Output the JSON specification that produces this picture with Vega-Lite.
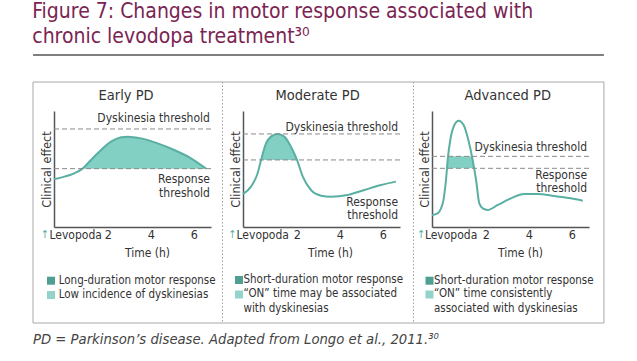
{
 "$schema": "https://vega.github.io/schema/vega-lite/v6.json",
 "background": "white",
 "autosize": {"type": "pad"},
 "padding": {"left": 32, "top": 1, "right": 34, "bottom": 11},
 "bounds": "flush",
 "spacing": 32,
 "title": {"text": ["Figure 7: Changes in motor response associated with", "chronic levodopa treatment³⁰"], "anchor": "start", "frame": "bounds", "fontSize": 21, "fontWeight": "normal", "color": "#7b2452", "lineHeight": 25, "offset": 7},
 "config": {
  "font": "DejaVu Sans Condensed, DejaVu Sans, sans-serif",
  "view": {"stroke": null},
  "text": {"fontSize": 12, "color": "#333"},
  "axisX": {"ticks": false, "grid": false, "labelFontSize": 12.5, "labelPadding": 1, "labelColor": "#333", "labelFlush": false, "domainColor": "#555", "domainWidth": 1.5, "titleFontSize": 12, "titleFontWeight": "normal", "titleColor": "#333", "titleY": 25, "titleBaseline": "middle", "titleAlign": "center"},
  "axisY": {"labels": false, "ticks": false, "grid": false, "domainColor": "#555", "domainWidth": 1.5, "titleFontSize": 12.5, "titleFontWeight": "normal", "titleColor": "#333", "titlePadding": 1}
 },
 "datasets": {
  "early": [
   {"h": -0.5, "v": 4.11}, {"h": -0.02, "v": 4.34}, {"h": 0.44, "v": 4.63}, {"h": 0.83, "v": 5.03}, {"h": 1.22, "v": 5.78}, {"h": 1.53, "v": 6.35}, {"h": 2.15, "v": 7.36}, {"h": 2.62, "v": 7.73}, {"h": 2.93, "v": 7.79}, {"h": 3.55, "v": 7.64}, {"h": 4.32, "v": 7.21}, {"h": 5.09, "v": 6.64}, {"h": 5.87, "v": 5.92}, {"h": 6.57, "v": 5.03}
  ],
  "moderate": [
   {"h": -0.5, "v": 2.84}, {"h": -0.13, "v": 3.48}, {"h": 0.18, "v": 4.63}, {"h": 0.34, "v": 5.78}, {"h": 0.57, "v": 7.21}, {"h": 0.8, "v": 7.79}, {"h": 1.11, "v": 8.02}, {"h": 1.42, "v": 7.79}, {"h": 1.73, "v": 6.92}, {"h": 2.01, "v": 5.78}, {"h": 2.28, "v": 4.34}, {"h": 2.66, "v": 3.19}, {"h": 3.13, "v": 2.7}, {"h": 3.59, "v": 2.61}, {"h": 4.37, "v": 2.76}, {"h": 5.14, "v": 3.19}, {"h": 5.92, "v": 3.62}, {"h": 6.61, "v": 3.91}
  ],
  "advanced": [
   {"h": -0.5, "v": 1.03}, {"h": -0.24, "v": 1.18}, {"h": 0.0, "v": 2.04}, {"h": 0.15, "v": 4.05}, {"h": 0.23, "v": 5.78}, {"h": 0.35, "v": 7.5}, {"h": 0.54, "v": 8.79}, {"h": 0.74, "v": 9.16}, {"h": 0.97, "v": 8.79}, {"h": 1.19, "v": 7.5}, {"h": 1.39, "v": 5.78}, {"h": 1.55, "v": 4.05}, {"h": 1.7, "v": 2.04}, {"h": 1.86, "v": 1.61}, {"h": 2.09, "v": 1.47}, {"h": 2.56, "v": 1.9}, {"h": 3.17, "v": 2.47}, {"h": 3.79, "v": 2.84}, {"h": 4.42, "v": 2.84}, {"h": 5.19, "v": 2.67}, {"h": 5.96, "v": 2.47}, {"h": 6.51, "v": 2.27}
  ],
  "advancedFill": [
   {"h": 0.197, "v": 5.06}, {"h": 0.252, "v": 6.09}, {"h": 1.355, "v": 6.09}, {"h": 1.456, "v": 5.06}
  ]
 },
 "hconcat": [
  {
   "width": 157, "height": 116,
   "layer": [
    {"data": {"name": "early"}, "transform": [{"filter": "datum.v >= 5.0"}],
     "mark": {"type": "area", "interpolate": "monotone", "color": "#82cfc3", "opacity": 1},
     "encoding": {
      "x": {"field": "h", "type": "quantitative", "title": "Time (h)", "scale": {"domain": [-0.5, 6.8], "nice": false, "zero": false}, "axis": {"values": [2, 4, 6], "titleX": 93}},
      "y": {"field": "v", "type": "quantitative", "title": "Clinical effect", "scale": {"domain": [0, 10], "nice": false, "zero": false}},
      "y2": {"datum": 5.03}
     }},
    {"data": {"name": "early"},
     "mark": {"type": "line", "interpolate": "monotone", "color": "#5aafa3", "strokeWidth": 2},
     "encoding": {"x": {"field": "h", "type": "quantitative", "title": "Time (h)"}, "y": {"field": "v", "type": "quantitative", "title": "Clinical effect"}}},
    {"data": {"values": [{"threshold": "Dyskinesia threshold", "v": 8.45}, {"threshold": "Response threshold", "v": 5.03}]},
     "mark": {"type": "rule", "strokeDash": [5, 3], "color": "#8a8a8a", "strokeWidth": 1},
     "encoding": {"y": {"field": "v", "type": "quantitative", "title": "Clinical effect"}, "x": {"datum": -0.5}, "x2": {"datum": 6.8}}},
    {"data": {"values": [{"label": "Dyskinesia threshold"}]},
     "mark": {"type": "text", "align": "right", "baseline": "middle"},
     "encoding": {"x": {"datum": 6.75}, "y": {"datum": 9.4}, "text": {"field": "label"}}},
    {"data": {"values": [{"label": "Response\nthreshold"}]},
     "mark": {"type": "text", "align": "right", "baseline": "top", "lineBreak": "\n", "lineHeight": 14},
     "encoding": {"x": {"datum": 6.75}, "y": {"datum": 4.59}, "text": {"field": "label"}}},
    {"data": {"values": [{"label": "Early PD"}]},
     "mark": {"type": "text", "align": "center", "baseline": "middle", "fontSize": 14.5},
     "encoding": {"x": {"datum": 2.85}, "y": {"datum": 11.29}, "text": {"field": "label"}}},
    {"data": {"values": [{"label": "↑"}]},
     "mark": {"type": "text", "align": "center", "baseline": "middle", "color": "#5aafa3", "fontSize": 11},
     "encoding": {"x": {"datum": -0.93}, "y": {"datum": -0.69}, "text": {"field": "label"}}},
    {"data": {"values": [{"label": "Levopoda"}]},
     "mark": {"type": "text", "align": "left", "baseline": "middle"},
     "encoding": {"x": {"datum": -0.71}, "y": {"datum": -0.69}, "text": {"field": "label"}}},
    {"data": {"values": [{"item": "Long-duration motor response"}]},
     "encoding": {"y": {"datum": -4.63}},
     "layer": [
      {"mark": {"type": "point", "shape": "square", "filled": true, "size": 64, "color": "#4f9f95", "opacity": 1}, "encoding": {"x": {"datum": -0.64}}},
      {"mark": {"type": "text", "align": "left", "baseline": "middle", "fontSize": 11.5}, "encoding": {"x": {"datum": -0.28}, "text": {"field": "item"}}}
     ]},
    {"data": {"values": [{"item": "Low incidence of dyskinesias"}]},
     "encoding": {"y": {"datum": -5.86}},
     "layer": [
      {"mark": {"type": "point", "shape": "square", "filled": true, "size": 64, "color": "#93d3c9", "opacity": 1}, "encoding": {"x": {"datum": -0.64}}},
      {"mark": {"type": "text", "align": "left", "baseline": "middle", "fontSize": 11.5}, "encoding": {"x": {"datum": -0.28}, "text": {"field": "item"}}}
     ]},
    {"data": {"values": [{"note": "PD = Parkinson’s disease. Adapted from Longo et al., 2011.³⁰"}]},
     "mark": {"type": "text", "align": "left", "baseline": "middle", "fontStyle": "italic", "fontSize": 14.7, "color": "#444"},
     "encoding": {"x": {"datum": -1.476}, "y": {"datum": -9.74}, "text": {"field": "note"}}},
    {"data": {"values": [{"part": "title rule"}]},
     "mark": {"type": "rule", "color": "#555", "strokeWidth": 1.5},
     "encoding": {"x": {"datum": -1.476}, "x2": {"datum": 25.07}, "y": {"datum": 14.83}}},
    {"data": {"values": [{"part": "frame"}]},
     "mark": {"type": "rect", "fill": "white", "fillOpacity": 0, "stroke": "#a8a8a8", "strokeWidth": 1},
     "encoding": {"x": {"datum": -1.476}, "x2": {"datum": 25.07}, "y": {"datum": 12.5}, "y2": {"datum": -8.276}}},
    {"data": {"values": [{"part": "divider"}]},
     "mark": {"type": "rule", "color": "#a0a0a0", "strokeDash": [1.5, 2], "strokeWidth": 1},
     "encoding": {"x": {"datum": 7.335}, "y": {"datum": 12.5}, "y2": {"datum": -8.276}}}
   ]
  },
  {
   "width": 157, "height": 116,
   "layer": [
    {"data": {"name": "moderate"}, "transform": [{"filter": "datum.v >= 5.77"}],
     "mark": {"type": "area", "interpolate": "monotone", "color": "#82cfc3", "opacity": 1},
     "encoding": {
      "x": {"field": "h", "type": "quantitative", "title": "Time (h)", "scale": {"domain": [-0.5, 6.8], "nice": false, "zero": false}, "axis": {"values": [2, 4, 6], "titleX": 87}},
      "y": {"field": "v", "type": "quantitative", "title": "Clinical effect", "scale": {"domain": [0, 10], "nice": false, "zero": false}},
      "y2": {"datum": 5.78}
     }},
    {"data": {"name": "moderate"},
     "mark": {"type": "line", "interpolate": "monotone", "color": "#5aafa3", "strokeWidth": 2},
     "encoding": {"x": {"field": "h", "type": "quantitative", "title": "Time (h)"}, "y": {"field": "v", "type": "quantitative", "title": "Clinical effect"}}},
    {"data": {"values": [{"threshold": "Dyskinesia threshold", "v": 8.02}, {"threshold": "Response threshold", "v": 5.78}]},
     "mark": {"type": "rule", "strokeDash": [5, 3], "color": "#8a8a8a", "strokeWidth": 1},
     "encoding": {"y": {"field": "v", "type": "quantitative", "title": "Clinical effect"}, "x": {"datum": -0.5}, "x2": {"datum": 6.8}}},
    {"data": {"values": [{"label": "Dyskinesia threshold"}]},
     "mark": {"type": "text", "align": "right", "baseline": "middle"},
     "encoding": {"x": {"datum": 6.71}, "y": {"datum": 8.65}, "text": {"field": "label"}}},
    {"data": {"values": [{"label": "Response\nthreshold"}]},
     "mark": {"type": "text", "align": "right", "baseline": "top", "lineBreak": "\n", "lineHeight": 13},
     "encoding": {"x": {"datum": 6.71}, "y": {"datum": 2.58}, "text": {"field": "label"}}},
    {"data": {"values": [{"label": "Moderate PD"}]},
     "mark": {"type": "text", "align": "center", "baseline": "middle", "fontSize": 14.5},
     "encoding": {"x": {"datum": 2.97}, "y": {"datum": 11.29}, "text": {"field": "label"}}},
    {"data": {"values": [{"label": "↑"}]},
     "mark": {"type": "text", "align": "center", "baseline": "middle", "color": "#5aafa3", "fontSize": 11},
     "encoding": {"x": {"datum": -1.0}, "y": {"datum": -0.69}, "text": {"field": "label"}}},
    {"data": {"values": [{"label": "Levopoda"}]},
     "mark": {"type": "text", "align": "left", "baseline": "middle"},
     "encoding": {"x": {"datum": -0.8}, "y": {"datum": -0.69}, "text": {"field": "label"}}},
    {"data": {"values": [{"item": "Short-duration motor response"}]},
     "encoding": {"y": {"datum": -4.57}},
     "layer": [
      {"mark": {"type": "point", "shape": "square", "filled": true, "size": 64, "color": "#4f9f95", "opacity": 1}, "encoding": {"x": {"datum": -0.686}}},
      {"mark": {"type": "text", "align": "left", "baseline": "middle", "fontSize": 11.5}, "encoding": {"x": {"datum": -0.477}, "text": {"field": "item"}}}
     ]},
    {"data": {"values": [{"item": "“ON” time may be associated\nwith dyskinesias"}]},
     "layer": [
      {"mark": {"type": "point", "shape": "square", "filled": true, "size": 64, "color": "#93d3c9", "opacity": 1}, "encoding": {"x": {"datum": -0.686}, "y": {"datum": -5.82}}},
      {"mark": {"type": "text", "align": "left", "baseline": "top", "lineBreak": "\n", "lineHeight": 14.8, "fontSize": 11.5}, "encoding": {"x": {"datum": -0.477}, "y": {"datum": -5.3}, "text": {"field": "item"}}}
     ]},
    {"data": {"values": [{"part": "divider"}]},
     "mark": {"type": "rule", "color": "#a0a0a0", "strokeDash": [1.5, 2], "strokeWidth": 1},
     "encoding": {"x": {"datum": 7.427}, "y": {"datum": 12.5}, "y2": {"datum": -8.276}}}
   ]
  },
  {
   "width": 157, "height": 116,
   "layer": [
    {"data": {"name": "advancedFill"},
     "mark": {"type": "area", "interpolate": "linear", "color": "#82cfc3", "opacity": 1},
     "encoding": {
      "x": {"field": "h", "type": "quantitative", "title": "Time (h)", "scale": {"domain": [-0.5, 6.8], "nice": false, "zero": false}, "axis": {"values": [2, 4, 6], "titleX": 88}},
      "y": {"field": "v", "type": "quantitative", "title": "Clinical effect", "scale": {"domain": [0, 10], "nice": false, "zero": false}},
      "y2": {"datum": 5.06}
     }},
    {"data": {"name": "advanced"},
     "mark": {"type": "line", "interpolate": "monotone", "color": "#5aafa3", "strokeWidth": 2},
     "encoding": {"x": {"field": "h", "type": "quantitative", "title": "Time (h)"}, "y": {"field": "v", "type": "quantitative", "title": "Clinical effect"}}},
    {"data": {"values": [{"threshold": "Dyskinesia threshold", "v": 6.09}, {"threshold": "Response threshold", "v": 5.06}]},
     "mark": {"type": "rule", "strokeDash": [5, 3], "color": "#8a8a8a", "strokeWidth": 1},
     "encoding": {"y": {"field": "v", "type": "quantitative", "title": "Clinical effect"}, "x": {"datum": -0.5}, "x2": {"datum": 6.8}}},
    {"data": {"values": [{"label": "Dyskinesia threshold"}]},
     "mark": {"type": "text", "align": "right", "baseline": "middle"},
     "encoding": {"x": {"datum": 6.71}, "y": {"datum": 6.92}, "text": {"field": "label"}}},
    {"data": {"values": [{"label": "Response\nthreshold"}]},
     "mark": {"type": "text", "align": "right", "baseline": "top", "lineBreak": "\n", "lineHeight": 13},
     "encoding": {"x": {"datum": 6.71}, "y": {"datum": 4.93}, "text": {"field": "label"}}},
    {"data": {"values": [{"label": "Advanced PD"}]},
     "mark": {"type": "text", "align": "center", "baseline": "middle", "fontSize": 14.5},
     "encoding": {"x": {"datum": 3.02}, "y": {"datum": 11.29}, "text": {"field": "label"}}},
    {"data": {"values": [{"label": "↑"}]},
     "mark": {"type": "text", "align": "center", "baseline": "middle", "color": "#5aafa3", "fontSize": 11},
     "encoding": {"x": {"datum": -1.02}, "y": {"datum": -0.69}, "text": {"field": "label"}}},
    {"data": {"values": [{"label": "Levopoda"}]},
     "mark": {"type": "text", "align": "left", "baseline": "middle"},
     "encoding": {"x": {"datum": -0.83}, "y": {"datum": -0.69}, "text": {"field": "label"}}},
    {"data": {"values": [{"item": "Short-duration motor response"}]},
     "encoding": {"y": {"datum": -4.63}},
     "layer": [
      {"mark": {"type": "point", "shape": "square", "filled": true, "size": 64, "color": "#4f9f95", "opacity": 1}, "encoding": {"x": {"datum": -0.616}}},
      {"mark": {"type": "text", "align": "left", "baseline": "middle", "fontSize": 11.5}, "encoding": {"x": {"datum": -0.407}, "text": {"field": "item"}}}
     ]},
    {"data": {"values": [{"item": "“ON” time consistently\nassociated with dyskinesias"}]},
     "layer": [
      {"mark": {"type": "point", "shape": "square", "filled": true, "size": 64, "color": "#93d3c9", "opacity": 1}, "encoding": {"x": {"datum": -0.616}, "y": {"datum": -5.82}}},
      {"mark": {"type": "text", "align": "left", "baseline": "top", "lineBreak": "\n", "lineHeight": 14.8, "fontSize": 11.5}, "encoding": {"x": {"datum": -0.407}, "y": {"datum": -5.3}, "text": {"field": "item"}}}
     ]}
   ]
  }
 ]
}
